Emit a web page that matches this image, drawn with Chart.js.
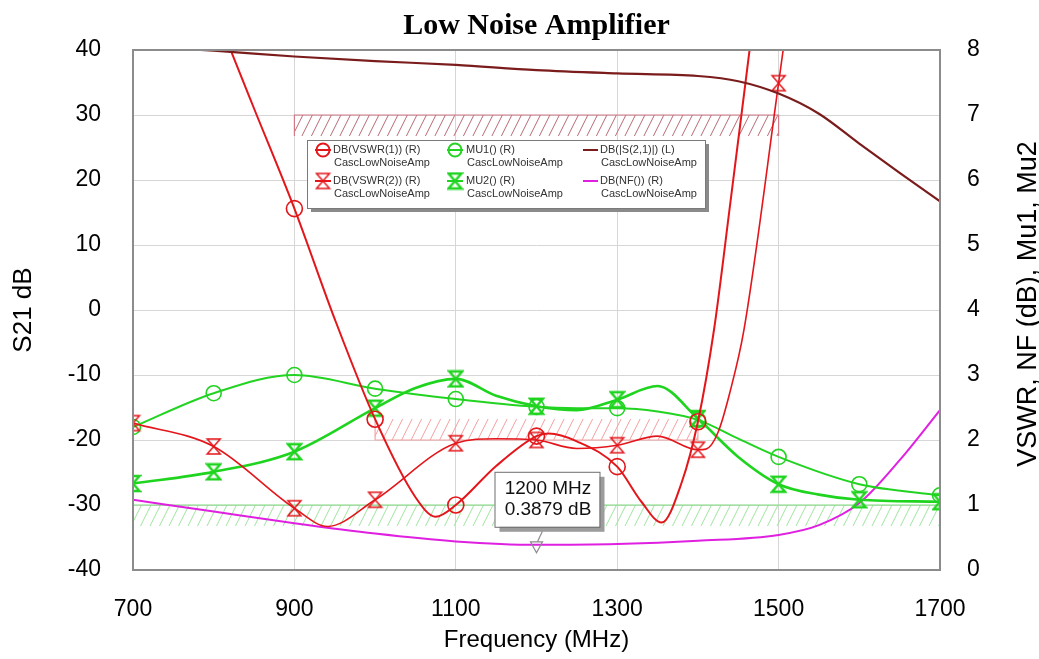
<!DOCTYPE html>
<html>
<head>
<meta charset="utf-8">
<title>Low Noise Amplifier</title>
<script src="https://cdn.jsdelivr.net/npm/chart.js@4.4.1/dist/chart.umd.min.js"></script>
<style>
    html, body { margin: 0; padding: 0; background: #fff; }
    #wrap { width: 1039px; height: 659px; }
</style>
</head>
<body>
<div id="wrap"><canvas id="lna" width="1039" height="659"></canvas></div>
<script>
// sweep points, MHz / dB / linear (right axis)
var freqS21 = [700, 800, 900, 1000, 1100, 1200, 1300, 1400, 1450, 1500, 1550, 1600, 1650, 1700];
var s21     = [40.6, 39.9, 39.0, 38.3, 37.7, 36.9, 36.4, 36.0, 35.2, 33.3, 30.2, 25.6, 21.1, 16.7];

var freqVswr1 = [700, 800, 850, 900, 950, 1000, 1050, 1075, 1100, 1150, 1200, 1215, 1250, 1300, 1330, 1355, 1380, 1400, 1420, 1440, 1460, 1480];
var vswr1     = [11.8, 8.65, 7.1, 5.56, 3.86, 2.32, 1.12, 0.82, 1.0, 1.6, 2.06, 2.10, 1.98, 1.59, 1.05, 0.73, 1.35, 2.28, 3.7, 5.63, 7.6, 9.6];

var freqVswr2 = [700, 800, 900, 941, 1000, 1100, 1150, 1200, 1250, 1300, 1350, 1400, 1410, 1425, 1440, 1457, 1500, 1520];
var vswr2     = [2.26, 1.90, 0.95, 0.67, 1.08, 1.95, 2.02, 2.0, 1.87, 1.92, 2.06, 1.85, 1.86, 2.12, 2.75, 3.69, 7.49, 9.3];

var freqMu1 = [700, 800, 900, 1000, 1100, 1200, 1250, 1300, 1350, 1400, 1450, 1500, 1600, 1700];
var mu1     = [2.2, 2.72, 3.0, 2.79, 2.63, 2.51, 2.49, 2.49, 2.44, 2.31, 2.02, 1.74, 1.32, 1.15];

var freqMu2 = [700, 800, 900, 1000, 1050, 1100, 1150, 1200, 1250, 1300, 1350, 1400, 1450, 1500, 1550, 1600, 1700];
var mu2     = [1.33, 1.51, 1.82, 2.49, 2.80, 2.94, 2.68, 2.52, 2.46, 2.62, 2.83, 2.33, 1.74, 1.32, 1.16, 1.08, 1.05];

var freqNf = [700, 800, 900, 1000, 1100, 1200, 1300, 1400, 1500, 1550, 1600, 1650, 1700];
var nf     = [1.08, 0.90, 0.72, 0.56, 0.44, 0.3879, 0.40, 0.45, 0.54, 0.69, 1.03, 1.69, 2.46];

// optimisation goals (hatched bands)
var goalStart = [900, 1000, 700];
var goalStop  = [1500, 1400, 1700];
var goalValue = [30, 2, 1];
var goalAxis  = ['y', 'y1', 'y1'];
var goalType  = ['>', '<', '>'];

// marker readout
var markerFreq  = 1200;
var markerValue = 0.3879;

// tick setup
var freqTicks  = { min: 700, max: 1700, step: 200 };
var leftTicks  = { min: -40, max: 40, step: 10 };
var rightTicks = { min: 0, max: 8, step: 1 };

var FONT = "'Liberation Sans', Arial, sans-serif";

var LnaChart = {

    /**
     * init
     * @return {void}
     **/
    init: function () {

        var that = this;

        this.bowRed = this.makeBowtie('#e3161b', 13, 15, 1.5);
        this.bowGreen = this.makeBowtie('#1fd41f', 13, 15, 2.5);

        this.chart = new Chart(document.getElementById('lna'), {
            type: 'line',
            data: { datasets: this.buildDatasets() },
            options: this.buildOptions(),
            plugins: [{
                id: 'lnaDecor',
                beforeDatasetsDraw: function (chart) { that.drawGoals(chart); },
                afterDatasetsDraw: function (chart) {
                    that.drawFrame(chart);
                    that.drawMarker(chart);
                    that.drawLegend(chart);
                },
                afterDraw: function (chart) { that.drawRightTitle(chart); }
            }]
        });
    },

    /**
     * points - pair a sweep with its values
     * @return {Array}
     **/
    points: function (freqs, vals) {
        return freqs.map(function (f, i) { return { x: f, y: vals[i] }; });
    },

    /**
     * makeBowtie - hourglass marker drawn on a small canvas
     * @return {HTMLCanvasElement}
     **/
    makeBowtie: function (color, w, h, lw) {
        var c = document.createElement('canvas'), g, l = 2, t = 2, r = w + 2, b = h + 2;
        c.width = w + 4;
        c.height = h + 4;
        g = c.getContext('2d');
        g.strokeStyle = color;
        g.lineWidth = lw;
        g.lineJoin = 'miter';
        g.beginPath();
        g.moveTo(l, t);
        g.lineTo(r, t);
        g.lineTo(l, b);
        g.lineTo(r, b);
        g.closePath();
        g.stroke();
        return c;
    },

    /**
     * buildDatasets
     * @return {Array}
     **/
    buildDatasets: function () {

        var onGrid = function (size) {
            return function (c) { return c.raw && c.raw.x % 100 === 0 ? size : 0; };
        };

        var base = {
            fill: false,
            cubicInterpolationMode: 'monotone',
            pointBackgroundColor: 'rgba(0,0,0,0)',
            pointHoverRadius: 0
        };

        return [
            Object.assign({}, base, {
                label: 'DB(|S(2,1)|) (L)',
                yAxisID: 'y',
                data: this.points(freqS21, s21),
                borderColor: '#7b1c1c',
                borderWidth: 2.2,
                pointRadius: 0
            }),
            Object.assign({}, base, {
                label: 'DB(VSWR(1)) (R)',
                yAxisID: 'y1',
                data: this.points(freqVswr1, vswr1),
                borderColor: '#e3161b',
                borderWidth: 2,
                pointStyle: 'circle',
                pointRadius: onGrid(8),
                pointBorderColor: '#e3161b',
                pointBorderWidth: 1.6
            }),
            Object.assign({}, base, {
                label: 'DB(VSWR(2)) (R)',
                yAxisID: 'y1',
                data: this.points(freqVswr2, vswr2),
                borderColor: '#e3161b',
                borderWidth: 1.6,
                pointStyle: this.bowRed,
                pointRadius: onGrid(7)
            }),
            Object.assign({}, base, {
                label: 'MU1() (R)',
                yAxisID: 'y1',
                data: this.points(freqMu1, mu1),
                borderColor: '#22d322',
                borderWidth: 2,
                pointStyle: 'circle',
                pointRadius: onGrid(7.5),
                pointBorderColor: '#22d322',
                pointBorderWidth: 1.6
            }),
            Object.assign({}, base, {
                label: 'MU2() (R)',
                yAxisID: 'y1',
                data: this.points(freqMu2, mu2),
                borderColor: '#1fd41f',
                borderWidth: 2.6,
                pointStyle: this.bowGreen,
                pointRadius: onGrid(7)
            }),
            Object.assign({}, base, {
                label: 'DB(NF()) (R)',
                yAxisID: 'y1',
                data: this.points(freqNf, nf),
                borderColor: '#e020e0',
                borderWidth: 2,
                pointRadius: 0
            })
        ];
    },

    /**
     * buildOptions
     * @return {Object}
     **/
    buildOptions: function () {

        var grid = { color: '#d6d6d6', lineWidth: 1, drawTicks: false },
            plain = function (v) { return String(v); };

        return {
            responsive: false,
            devicePixelRatio: 1,
            animation: false,
            events: [],
            layout: { padding: 0 },
            plugins: {
                legend: { display: false },
                tooltip: { enabled: false },
                title: {
                    display: true,
                    fullSize: false,
                    text: 'Low Noise Amplifier',
                    color: '#000',
                    font: { family: "'Liberation Serif', 'Times New Roman', serif", size: 30, weight: 'bold' },
                    padding: { top: 8, bottom: 6 }
                }
            },
            scales: {
                x: {
                    type: 'linear',
                    min: freqTicks.min,
                    max: freqTicks.max,
                    grid: grid,
                    border: { display: false },
                    ticks: { stepSize: freqTicks.step, padding: 26, color: '#000', font: { family: FONT, size: 23 }, callback: plain },
                    title: { display: true, text: 'Frequency (MHz)', color: '#000', font: { family: FONT, size: 24 }, padding: { top: 0, bottom: 4 } },
                    afterFit: function (s) { s.height = 89; }
                },
                y: {
                    position: 'left',
                    min: leftTicks.min,
                    max: leftTicks.max,
                    grid: grid,
                    border: { display: false },
                    ticks: { stepSize: leftTicks.step, padding: 32, color: '#000', font: { family: FONT, size: 23 }, callback: plain },
                    title: { display: true, text: 'S21 dB', color: '#000', font: { family: FONT, size: 26 }, padding: { top: 8, bottom: 0 } },
                    afterFit: function (s) { s.width = 133; }
                },
                y1: {
                    position: 'right',
                    min: rightTicks.min,
                    max: rightTicks.max,
                    grid: { display: false, drawTicks: false },
                    border: { display: false },
                    ticks: { stepSize: rightTicks.step, padding: 27, color: '#000', font: { family: FONT, size: 23 }, callback: plain },
                    afterFit: function (s) { s.width = 99; }
                }
            }
        };
    },

    /**
     * hatch - diagonal hatch inside a rectangle
     * @return {void}
     **/
    hatch: function (ctx, x0, y0, x1, y1, color) {
        var h = y1 - y0, x;
        ctx.save();
        ctx.beginPath();
        ctx.rect(x0, y0, x1 - x0, h);
        ctx.clip();
        ctx.strokeStyle = color;
        ctx.lineWidth = 1;
        ctx.beginPath();
        for (x = x0 - h; x < x1 + h; x += 9.5) {
            ctx.moveTo(x, y1);
            ctx.lineTo(x + h * 0.5, y0);
        }
        ctx.stroke();
        ctx.restore();
    },

    /**
     * drawGoals
     * @return {void}
     **/
    drawGoals: function (chart) {

        var ctx = chart.ctx, xs = chart.scales.x, i, band = 21,
            lineColors = ['#d07a88', '#f3a3a3', '#7fdc7f'],
            hatchColors = ['#b86a74', '#f4a0a0', '#9ee39e'],
            x0, x1, yl, ya, yb;

        for (i = 0; i < goalValue.length; i++) {
            x0 = xs.getPixelForValue(goalStart[i]);
            x1 = xs.getPixelForValue(goalStop[i]);
            yl = chart.scales[goalAxis[i]].getPixelForValue(goalValue[i]);

            // '>' goals hatch below the limit, '<' goals above it
            ya = goalType[i] === '>' ? yl : yl - band;
            yb = goalType[i] === '>' ? yl + band : yl;

            this.hatch(ctx, x0, ya, x1, yb, hatchColors[i]);

            ctx.save();
            ctx.strokeStyle = lineColors[i];
            ctx.lineWidth = 1.2;
            ctx.beginPath();
            ctx.moveTo(x0, goalType[i] === '>' ? yb : ya);
            ctx.lineTo(x0, yl);
            ctx.lineTo(x1, yl);
            ctx.lineTo(x1, goalType[i] === '>' ? yb : ya);
            ctx.stroke();
            ctx.restore();
        }
    },

    /**
     * drawFrame
     * @return {void}
     **/
    drawFrame: function (chart) {
        var a = chart.chartArea, ctx = chart.ctx;
        ctx.save();
        ctx.strokeStyle = '#8c8c8c';
        ctx.lineWidth = 2;
        ctx.strokeRect(a.left, a.top, a.right - a.left, a.bottom - a.top);
        ctx.restore();
    },

    /**
     * drawMarker - readout box on the noise figure trace
     * @return {void}
     **/
    drawMarker: function (chart) {

        var ctx = chart.ctx,
            px = chart.scales.x.getPixelForValue(markerFreq),
            py = chart.scales.y1.getPixelForValue(markerValue),
            bx = px - 42, by = py - 73, bw = 105, bh = 55;

        ctx.save();
        ctx.strokeStyle = '#8c8c8c';
        ctx.lineWidth = 1.2;
        ctx.beginPath();
        ctx.moveTo(px - 6, py - 3);
        ctx.lineTo(px + 6, py - 3);
        ctx.lineTo(px, py + 8);
        ctx.closePath();
        ctx.stroke();
        ctx.beginPath();
        ctx.moveTo(px + 1, py - 3);
        ctx.lineTo(px + 8, by + bh);
        ctx.stroke();

        ctx.fillStyle = '#9c9c9c';
        ctx.fillRect(bx + 5, by + 5, bw, bh);
        ctx.fillStyle = '#fff';
        ctx.fillRect(bx, by, bw, bh);
        ctx.strokeStyle = '#6e6e6e';
        ctx.lineWidth = 1;
        ctx.strokeRect(bx + 0.5, by + 0.5, bw, bh);

        ctx.fillStyle = '#111';
        ctx.font = '19px ' + FONT;
        ctx.textAlign = 'center';
        ctx.textBaseline = 'middle';
        ctx.fillText(markerFreq + ' MHz', bx + bw / 2 + 1, by + 17);
        ctx.fillText(markerValue.toFixed(4) + ' dB', bx + bw / 2 + 1, by + 38);
        ctx.restore();
    },

    /**
     * legendIcon
     * @return {void}
     **/
    legendIcon: function (ctx, ds, cx, cy) {
        ctx.save();
        ctx.strokeStyle = ds.borderColor;
        ctx.lineWidth = 2;
        ctx.beginPath();
        ctx.moveTo(cx - 8, cy);
        ctx.lineTo(cx + 8, cy);
        ctx.stroke();
        if (ds.pointStyle === 'circle') {
            ctx.beginPath();
            ctx.arc(cx, cy, 6.5, 0, Math.PI * 2);
            ctx.stroke();
        } else if (ds.pointStyle) {
            ctx.drawImage(ds.pointStyle, cx - ds.pointStyle.width / 2, cy - ds.pointStyle.height / 2);
        }
        ctx.restore();
    },

    /**
     * drawLegend - two line entries in a shadowed box
     * @return {void}
     **/
    drawLegend: function (chart) {

        var ctx = chart.ctx, sets = chart.data.datasets,
            box = { x: 307, y: 140, w: 398, h: 68 },
            order = [[1, 2], [3, 4], [0, 5]],
            iconX = [323, 455, 590],
            textX = [333, 466, 600],
            rowY = [150, 181],
            c, r, ds;

        ctx.save();
        ctx.fillStyle = '#8a8a8a';
        ctx.fillRect(box.x + 4, box.y + 4, box.w, box.h);
        ctx.fillStyle = '#fff';
        ctx.fillRect(box.x, box.y, box.w, box.h);
        ctx.strokeStyle = '#7a7a7a';
        ctx.lineWidth = 1;
        ctx.strokeRect(box.x + 0.5, box.y + 0.5, box.w, box.h);

        ctx.font = '11px ' + FONT;
        ctx.textBaseline = 'middle';
        ctx.textAlign = 'left';

        for (c = 0; c < order.length; c++) {
            for (r = 0; r < 2; r++) {
                ds = sets[order[c][r]];
                if (c === 2) {
                    ctx.strokeStyle = ds.borderColor;
                    ctx.lineWidth = 2;
                    ctx.beginPath();
                    ctx.moveTo(iconX[c] - 7, rowY[r]);
                    ctx.lineTo(iconX[c] + 8, rowY[r]);
                    ctx.stroke();
                } else {
                    this.legendIcon(ctx, ds, iconX[c], rowY[r]);
                }
                ctx.fillStyle = '#333';
                ctx.fillText(ds.label, textX[c], rowY[r]);
                ctx.fillText('CascLowNoiseAmp', textX[c] + 1, rowY[r] + 13);
            }
        }
        ctx.restore();
    },

    /**
     * drawRightTitle - reads bottom to top like the left one
     * @return {void}
     **/
    drawRightTitle: function (chart) {
        var ctx = chart.ctx, a = chart.chartArea;
        ctx.save();
        ctx.translate(1036, (a.top + a.bottom) / 2 - 6);
        ctx.rotate(-Math.PI / 2);
        ctx.fillStyle = '#000';
        ctx.font = '27px ' + FONT;
        ctx.textAlign = 'center';
        ctx.textBaseline = 'alphabetic';
        ctx.fillText('VSWR, NF (dB), Mu1, Mu2', 0, 0);
        ctx.restore();
    }
};

LnaChart.init();
</script>
</body>
</html>
